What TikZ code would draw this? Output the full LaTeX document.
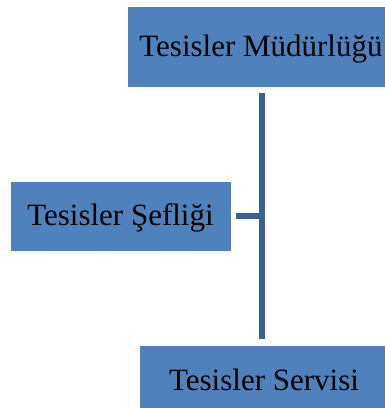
\documentclass[tikz,border=0pt]{standalone}
\usepackage{fontspec}
\setmainfont{Liberation Serif}
\definecolor{boxblue}{HTML}{4F81BD}
\definecolor{linkblue}{HTML}{3B6194}
\begin{document}
\begin{tikzpicture}[x=1pt,y=-1pt,
  unit/.style={rectangle, fill=boxblue, draw=white, line width=0.8pt, inner sep=0pt,
    text height=22pt, text depth=3pt, font=\fontsize{31}{31}\selectfont, text=black},
  conn/.style={draw=linkblue, line width=5.5pt}]
\useasboundingbox (0,0) rectangle (385,408);
\fill[white] (0,0) rectangle (385,408);
\node[unit, minimum width=268pt, minimum height=81pt] (top) at (261,46.5) {Tesisler Müdürlüğü};
\node[unit, minimum width=221pt, minimum height=70pt] (left) at (120.5,216) {Tesisler Şefliği};
\node[unit, minimum width=250pt, minimum height=71pt] (bot) at (264,380.5) {Tesisler Servisi};
\coordinate (trunk) at (262,0);
\draw[conn, shorten <=6pt, shorten >=6pt] (top.south -| trunk) -- (bot.north -| trunk);
\draw[conn, shorten <=5pt] (left.east) -- (left.east -| trunk);
\end{tikzpicture}
\end{document}
